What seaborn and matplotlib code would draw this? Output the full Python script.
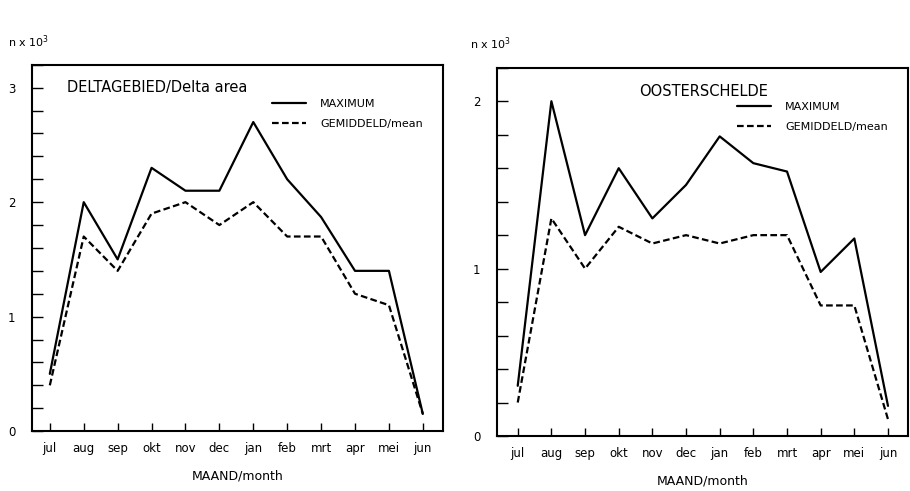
# Maandelijkse aantallen: Deltagebied en Oosterschelde
import numpy as np
import pandas as pd
import seaborn as sns
import matplotlib.pyplot as plt
from matplotlib.ticker import MultipleLocator

maanden = ['jul', 'aug', 'sep', 'okt', 'nov', 'dec', 'jan', 'feb', 'mrt', 'apr', 'mei', 'jun']

# Deltagebied (n x 10^3)
delta_max = [0.5, 2.0, 1.5, 2.3, 2.1, 2.1, 2.7, 2.2, 1.87, 1.4, 1.4, 0.15]
delta_mean = [0.4, 1.7, 1.4, 1.9, 2.0, 1.8, 2.0, 1.7, 1.7, 1.2, 1.1, 0.15]

# Oosterschelde (n x 10^3)
oost_max = [0.3, 2.0, 1.2, 1.6, 1.3, 1.5, 1.79, 1.63, 1.58, 0.98, 1.18, 0.18]
oost_mean = [0.2, 1.3, 1.0, 1.25, 1.15, 1.2, 1.15, 1.2, 1.2, 0.78, 0.78, 0.1]

labels = ['MAXIMUM', 'GEMIDDELD/mean']


def maak_df(maxi, gem):
    df = pd.DataFrame({'maand': maanden * 2,
                       'n': maxi + gem,
                       'serie': [labels[0]] * 12 + [labels[1]] * 12})
    df['x'] = df['maand'].map({m: i for i, m in enumerate(maanden)})
    return df


sns.set_style('white')
plt.rcParams['font.family'] = ['DejaVu Sans']
plt.rcParams['text.color'] = 'black'
plt.rcParams['xtick.color'] = 'black'
plt.rcParams['ytick.color'] = 'black'
plt.rcParams['axes.labelcolor'] = 'black'

fig = plt.figure(figsize=(9.1, 4.91), dpi=100)
ax1 = fig.add_axes([0.035, 0.122, 0.452, 0.746])
ax2 = fig.add_axes([0.546, 0.112, 0.452, 0.750])

panelen = [
    (ax1, maak_df(delta_max, delta_mean), 'DELTAGEBIED/Delta area', 3.2, [-0.53, 11.6], (0.085, 0.937)),
    (ax2, maak_df(oost_max, oost_mean), 'OOSTERSCHELDE', 2.2, [-0.62, 11.6], (0.345, 0.935)),
]

for ax, df, titel, ymax, xlim, tpos in panelen:
    sns.lineplot(data=df, x='x', y='n', style='serie', color='black',
                 dashes={labels[0]: '', labels[1]: (3, 1.5)},
                 linewidth=1.6, ax=ax)
    ax.set_xlim(xlim)
    ax.set_ylim(0, ymax)
    ax.set_xticks(range(12))
    ax.set_xticklabels(maanden, fontsize=8.5)
    ax.yaxis.set_major_locator(MultipleLocator(1))
    ax.yaxis.set_minor_locator(MultipleLocator(0.2))
    ax.tick_params(axis='y', which='both', left=True, direction='in', length=8, width=1,
                   labelsize=8.5, pad=12)
    ax.tick_params(axis='x', bottom=True, direction='in', length=6, width=1, pad=8)
    ax.set_xlabel('MAAND/month', fontsize=9, labelpad=10)
    ax.set_ylabel('')
    for sp in ax.spines.values():
        sp.set_visible(True)
        sp.set_color('black')
        sp.set_linewidth(1.5)
    ax.text(tpos[0], tpos[1], titel, transform=ax.transAxes, fontsize=10.5, va='center')
    h, l = ax.get_legend_handles_labels()
    ax.legend(h, l, loc='upper left', bbox_to_anchor=(0.56, 0.935), frameon=False,
              fontsize=8, handlelength=3.0, labelspacing=0.9, handletextpad=1.3)

fig.text(0.009, 0.905, r'n x 10$^3$', fontsize=8)
fig.text(0.517, 0.9, r'n x 10$^3$', fontsize=8)

fig.savefig('out.png', dpi=100)
